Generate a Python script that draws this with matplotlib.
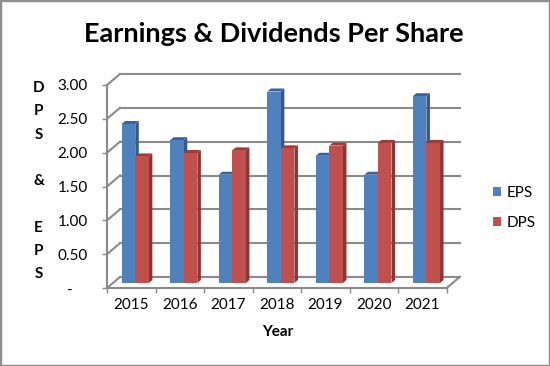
import matplotlib
matplotlib.use("Agg")
import matplotlib.pyplot as plt
from matplotlib.patches import Polygon, Rectangle, Patch
from matplotlib.lines import Line2D
from matplotlib.transforms import IdentityTransform
import numpy as np

# ---------------- data ----------------
years = ["2015", "2016", "2017", "2018", "2019", "2020", "2021"]
eps = [2.35, 2.11, 1.60, 2.83, 1.88, 1.60, 2.76]
dps = [1.87, 1.92, 1.96, 1.99, 2.03, 2.07, 2.07]
series_names = ["EPS", "DPS"]
y_ticks = [0.0, 0.5, 1.0, 1.5, 2.0, 2.5, 3.0]
y_tick_labels = ["-    ", "0.50", "1.00", "1.50", "2.00", "2.50", "3.00"]
title = "Earnings & Dividends Per Share"
x_title = "Year"
y_title_letters = ["D", "P", "S", "&", "E", "P", "S"]
y_title_rows = [0, 1, 2, 4, 6, 7, 8]

# ---------------- style ----------------
W, H, DPI = 550, 366, 100
FONT = "Lato"
face_cols = ["#4F81BD", "#C0504D"]
side_cols = ["#36598A", "#8E3533"]
top_cols = ["#3B6399", "#9C3B39"]
grid_col = "#8A8A8A"

plt.rcParams["font.family"] = [FONT, "DejaVu Sans"]

fig = plt.figure(figsize=(W / DPI, H / DPI), dpi=DPI)
ax_left, ax_right, ax_top, ax_bot = 107, 446.7, 85, 288
ax = fig.add_axes([ax_left / W, 1 - ax_bot / H, (ax_right - ax_left) / W, (ax_bot - ax_top) / H])
n = len(years)
ax.set_xlim(-0.5, n - 0.5)
ax.set_ylim(0, 3.0)
ax.set_autoscale_on(False)
ax.patch.set_alpha(0)

back = np.array([13.0, 11.0])      # wall depth offset (display px)
bar_front = np.array([4.0, 5.0])   # front face offset of bars
bar_depth = np.array([3.5, 3.0])   # bar depth
bw = 0.28


def disp(x, y):
    return ax.transData.transform((x, y))


def add_line(p, q, z=1, lw=1.5):
    ln = Line2D([p[0], q[0]], [p[1], q[1]], color=grid_col, lw=lw,
                transform=IdentityTransform(), zorder=z, clip_on=False)
    ax.add_line(ln)


# back wall grid + side wall diagonals
for yv in y_ticks:
    a = disp(-0.5, yv)
    b = disp(n - 0.5, yv)
    add_line(a + back, b + back)
    add_line(a, a + back)
# floor right edge
add_line(disp(n - 0.5, 0), disp(n - 0.5, 0) + back)


def poly(pts, color, z):
    pg = Polygon(np.array(pts), closed=True, facecolor=color, edgecolor="none",
                 transform=IdentityTransform(), zorder=z, clip_on=False)
    ax.add_patch(pg)


z = 3
for i in range(n):
    for s, vals in enumerate([eps, dps]):
        xl = i - bw if s == 0 else i
        p0 = disp(xl, 0) + bar_front
        p1 = disp(xl + bw, vals[i]) + bar_front
        # side face
        poly([(p1[0], p0[1]), (p1[0], p1[1]),
              (p1[0] + bar_depth[0], p1[1] + bar_depth[1]),
              (p1[0] + bar_depth[0], p0[1] + bar_depth[1])], side_cols[s], z)
        # top face
        poly([(p0[0], p1[1]), (p1[0], p1[1]),
              (p1[0] + bar_depth[0], p1[1] + bar_depth[1]),
              (p0[0] + bar_depth[0], p1[1] + bar_depth[1])], top_cols[s], z)
        # front face
        poly([(p0[0], p0[1]), (p1[0], p0[1]), (p1[0], p1[1]), (p0[0], p1[1])],
             face_cols[s], z + 0.5)
        z += 1

# spines
for sp in ["top", "right"]:
    ax.spines[sp].set_visible(False)
for sp in ["left", "bottom"]:
    ax.spines[sp].set_color(grid_col)
    ax.spines[sp].set_linewidth(1.5)
    ax.spines[sp].set_zorder(2)

ax.set_yticks(y_ticks)
ax.set_yticklabels(y_tick_labels)
ax.tick_params(axis="y", direction="out", length=3.3, width=1.0, color=grid_col,
               pad=10.5, labelsize=11, labelcolor="#000000")

ax.set_xticks(np.arange(n + 1) - 0.5)
ax.set_xticklabels([])
ax.tick_params(axis="x", which="major", direction="out", length=3.6, width=1.0, color=grid_col)
ax.set_xticks(np.arange(n), minor=True)
ax.set_xticklabels(years, minor=True)
ax.tick_params(axis="x", which="minor", length=0, pad=7.0, labelsize=11, labelcolor="#000000")

# titles
fig.text(274 / W, 1 - 42 / H, title, ha="center", va="baseline",
         fontsize=19.5, fontweight="bold", color="#000000")
fig.text(277.7 / W, 1 - 336 / H, x_title, ha="center", va="baseline",
         fontsize=11, fontweight="bold", color="#000000")
for letter, r in zip(y_title_letters, y_title_rows):
    fig.text(38.5 / W, 1 - (88 + 23.3 * r) / H, letter, ha="center", va="center",
             fontsize=11, fontweight="bold", color="#000000")

# legend
handles = [Patch(facecolor=face_cols[k], edgecolor="none") for k in range(2)]
fig.legend(handles, series_names, loc="center left",
           bbox_to_anchor=(492.5 / W, 1 - 208 / H), frameon=False, fontsize=11,
           handlelength=0.55, handleheight=0.55, handletextpad=0.35,
           labelspacing=1.05, borderpad=0, borderaxespad=0)

# outer frame
fig.add_artist(Rectangle((0, 0), 1, 1, transform=fig.transFigure, fill=False,
                         edgecolor="#8F8F8F", lw=2.5, zorder=10))

fig.savefig("out.png", dpi=DPI)
